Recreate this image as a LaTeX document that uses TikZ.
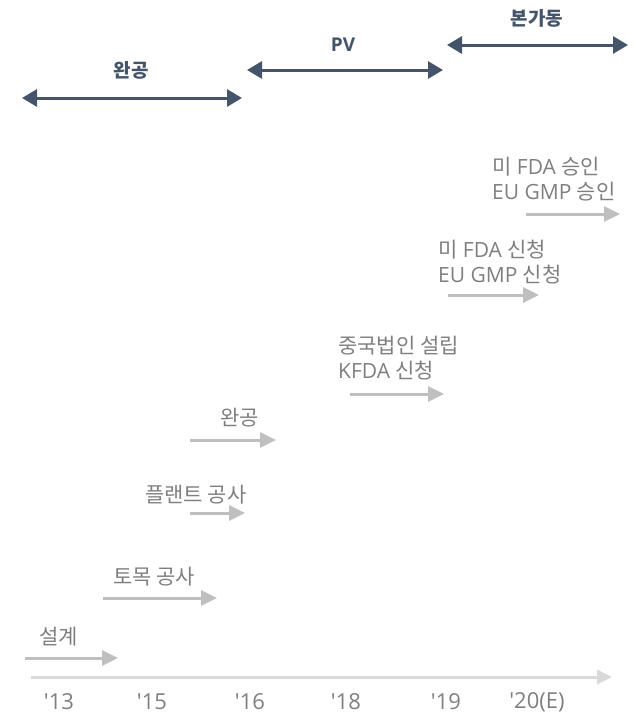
\documentclass[tikz,border=0pt]{standalone}
\usepackage{fontspec}
\setmainfont{Open Sans}
\newfontfamily\kr{Noto Sans CJK KR}
\usetikzlibrary{arrows.meta}
\definecolor{navy}{HTML}{44546A}
\definecolor{stepgrey}{HTML}{BFBFBF}
\definecolor{axisgrey}{HTML}{D9D9D9}
\definecolor{textgrey}{HTML}{7F7F7F}
\newcommand{\yr}[1]{\textquotesingle#1}

\begin{document}
\begin{tikzpicture}[x=1pt,y=-1pt,
    phase/.style={draw=navy, line width=3pt,
      {Triangle[length=15pt,width=17pt]}-{Triangle[length=15pt,width=17pt]}},
    phaselabel/.style={text=navy, font=\fontsize{19}{23}\selectfont\bfseries, inner sep=0pt},
    stage/.style={draw=stepgrey, line width=3pt, -{Triangle[length=16pt,width=15pt]}},
    stagelabel/.style={text=textgrey, font=\fontsize{21}{25}\selectfont, align=left, anchor=west, inner sep=0pt},
    yearlabel/.style={text=textgrey, font=\fontsize{22}{26}\selectfont, inner sep=0pt}]
  \useasboundingbox (0,0) rectangle (637,715);

  % Phases on top
  \coordinate (p1s) at (22,98);  \coordinate (p1e) at (242,98);
  \coordinate (p2s) at (247,70); \coordinate (p2e) at (443,70);
  \coordinate (p3s) at (447,45); \coordinate (p3e) at (628,45);
  \draw[phase] (p1s) -- (p1e);
  \draw[phase] (p2s) -- (p2e);
  \draw[phase] (p3s) -- (p3e);
  \node[phaselabel] (done) at (131,70) {\kr 완공};
  \node[phaselabel] (pv) at (343,45) {PV};
  \node[phaselabel] (run) at (537,18) {\kr 본가동};

  % Stages
  \coordinate (s1s) at (25,658);  \coordinate (s1e) at (118,658);
  \coordinate (s2s) at (103,598); \coordinate (s2e) at (217,598);
  \coordinate (s3s) at (190,513); \coordinate (s3e) at (245,513);
  \coordinate (s4s) at (190,440); \coordinate (s4e) at (276,440);
  \coordinate (s5s) at (350,394); \coordinate (s5e) at (444,394);
  \coordinate (s6s) at (448,295); \coordinate (s6e) at (539,295);
  \coordinate (s7s) at (526,214); \coordinate (s7e) at (620,214);
  \foreach \i in {1,...,7}
    \draw[stage] (s\i s) -- (s\i e);
  \node[stagelabel] (design) at (39,637) {\kr 설계};
  \node[stagelabel] (civil) at (113,577) {\kr 토목 공사};
  \node[stagelabel] (plant) at (145,495) {\kr 플랜트 공사};
  \node[stagelabel] (finish) at (220,418) {\kr 완공};
  \node[stagelabel] (china) at (338,358) {{\kr 중국법인 설립}\\KFDA {\kr 신청}};
  \node[stagelabel] (apply) at (438,262) {{\kr 미} FDA {\kr 신청}\\EU GMP {\kr 신청}};
  \node[stagelabel] (approve) at (492,179) {{\kr 미} FDA {\kr 승인}\\EU GMP {\kr 승인}};

  % Time axis
  \coordinate (ax0) at (31,677); \coordinate (ax1) at (612,677);
  \draw[draw=axisgrey, line width=3pt, -{Triangle[length=15pt,width=14pt]}] (ax0) -- (ax1);
  \node[yearlabel] (y13) at (59,702) {\yr{13}};
  \node[yearlabel] (y15) at (152,702) {\yr{15}};
  \node[yearlabel] (y16) at (250,702) {\yr{16}};
  \node[yearlabel] (y18) at (346,702) {\yr{18}};
  \node[yearlabel] (y19) at (446,702) {\yr{19}};
  \node[yearlabel] (y20) at (537,702) {\yr{20(E)}};
\end{tikzpicture}
\end{document}
